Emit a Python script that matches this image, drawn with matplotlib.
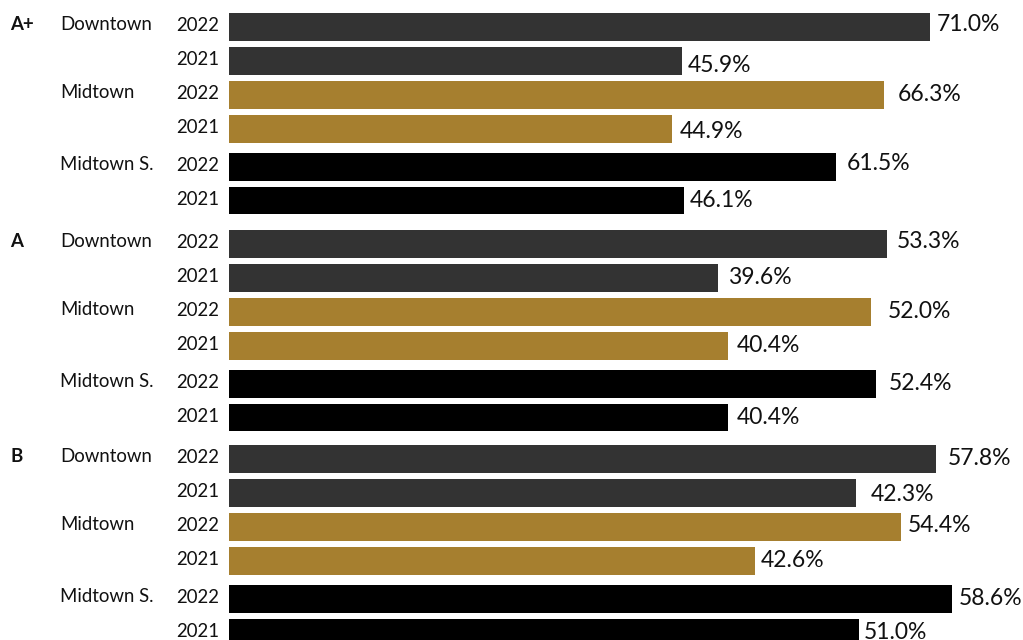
import matplotlib
matplotlib.use("Agg")
import matplotlib.pyplot as plt
from matplotlib.transforms import offset_copy

plt.rcParams['font.family'] = ['Lato', 'DejaVu Sans']

# ---- data ----
grades = ["A+", "A", "B"]
markets = ["Downtown", "Midtown", "Midtown S."]
years = ["2022", "2021"]
# bar lengths (percent), per grade: [Downtown 2022, Downtown 2021, Midtown 2022, Midtown 2021, Midtown S. 2022, Midtown S. 2021]
values_aplus = [71.0, 45.9, 66.3, 44.9, 61.5, 46.1]
values_a = [53.3, 39.6, 52.0, 40.4, 52.4, 40.4]
values_b = [57.3, 50.8, 54.4, 42.6, 58.6, 51.0]
labels_aplus = ["71.0%", "45.9%", "66.3%", "44.9%", "61.5%", "46.1%"]
labels_a = ["53.3%", "39.6%", "52.0%", "40.4%", "52.4%", "40.4%"]
labels_b = ["57.8%", "42.3%", "54.4%", "42.6%", "58.6%", "51.0%"]
x_max = [80, 64, 64]

# ---- style ----
market_colors = ["#333333", "#a67f2f", "#000000"]
W, H = 1023, 640
fig = plt.figure(figsize=(W / 100, H / 100), dpi=100)

left_px, right_px = 229, 1019
group_tops = [13, 230, 445]
group_span = 201
row_tops = [0, 34, 68, 102, 140, 174]
bar_h = 27.5
# label offsets in px (dx, dy) per group
label_dx = [[7, 5, 14, 7, 10, 5], [10, 10, 17, 9, 13, 9], [11, 15, 7, 6, 6, 5]]
label_dy = [[-2, 4.5, 0, 2.5, -3, 0], [-2, 0, 0, 0, 0, 0], [0, 1.5, -1, 0, 0, 0]]

all_values = [values_aplus, values_a, values_b]
all_labels = [labels_aplus, labels_a, labels_b]
txt_color = "#111111"
small_fs = 13.4
value_fs = 16.5

for g, grade in enumerate(grades):
    top = group_tops[g]
    ax = fig.add_axes([left_px / W, (H - top - group_span) / H,
                       (right_px - left_px) / W, group_span / H])
    ax.set_xlim(0, x_max[g])
    ax.set_ylim(group_span, 0)
    ax.axis("off")
    vals = all_values[g]
    labs = all_labels[g]
    ytrans = ax.get_yaxis_transform()
    px = lambda x: (x - left_px) / (right_px - left_px)
    for r in range(6):
        m = r // 2
        yc = row_tops[r] + bar_h / 2
        ax.barh(yc, vals[r], height=bar_h, left=0, color=market_colors[m], linewidth=0)
        tr = offset_copy(ax.transData, fig=fig, x=label_dx[g][r] * 0.72, y=-label_dy[g][r] * 0.72, units='points')
        ax.text(vals[r], yc, labs[r], transform=tr, ha="left", va="center",
                fontsize=value_fs, color=txt_color, clip_on=False)
        ax.text(px(219), yc - 1, years[r % 2], transform=ytrans, ha="right", va="center",
                fontsize=small_fs, color=txt_color, clip_on=False)
        if r % 2 == 0:
            ax.text(px(60), yc - 2, markets[m], transform=ytrans, ha="left", va="center",
                    fontsize=small_fs, color=txt_color, clip_on=False)
    ax.text(px(10), bar_h / 2 - 2, grade, transform=ytrans, ha="left", va="center",
            fontsize=small_fs, fontweight="bold", color=txt_color, clip_on=False)

fig.savefig("out.png", dpi=100, facecolor="white")
